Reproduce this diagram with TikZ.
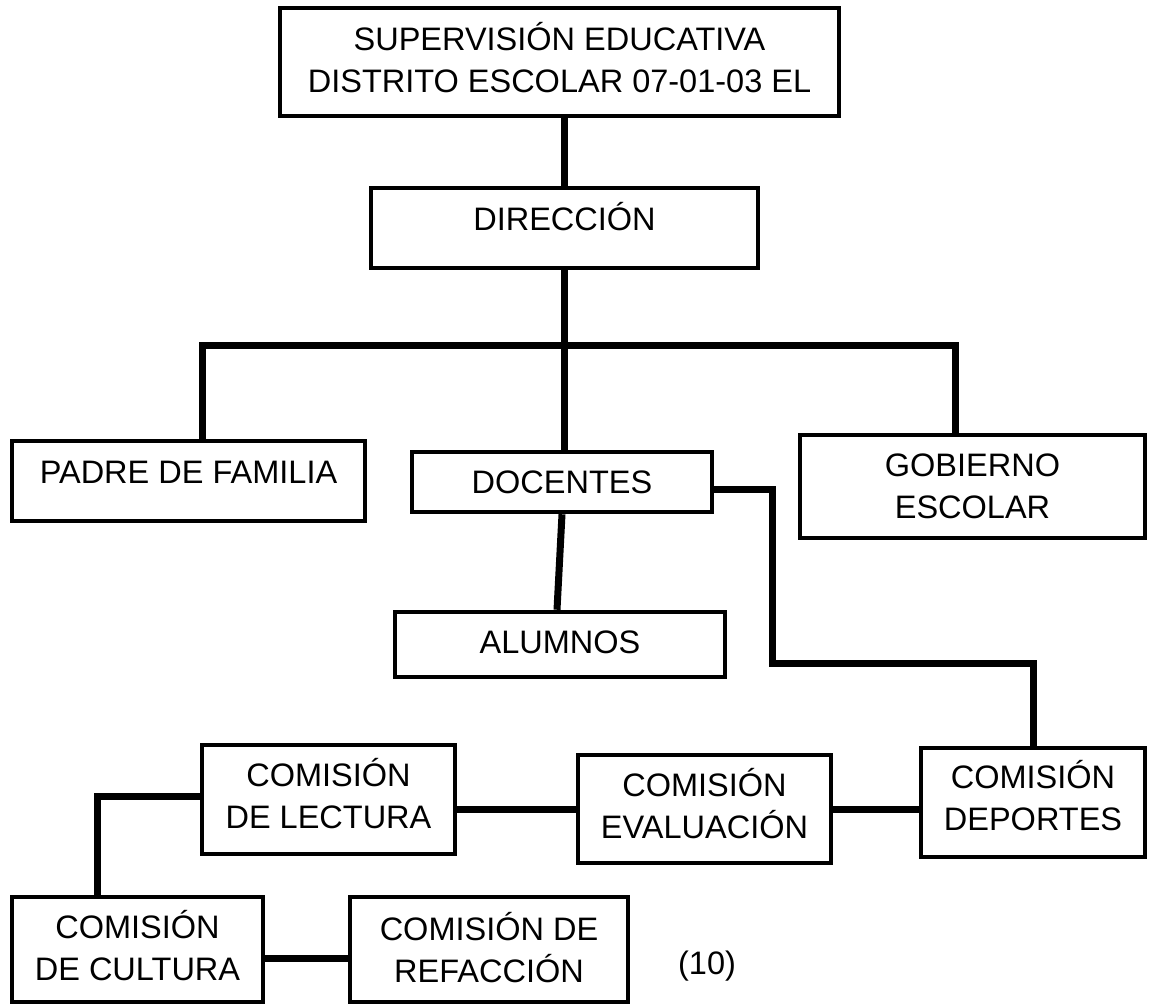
\documentclass[tikz,border=0pt]{standalone}
\usepackage{fontspec}
\setmainfont{Liberation Sans}
\begin{document}
\begin{tikzpicture}[x=1pt,y=-1pt,
  box/.style={draw=black,line width=4.5pt,fill=white,inner sep=0pt},
  txt/.style={inner sep=0pt,align=center,font=\fontsize{32.5}{42}\selectfont,anchor=south},
  conn/.style={draw=black,line width=7pt}]
\fill[white] (0,0) rectangle (1149,1005);
\useasboundingbox (0,0) rectangle (1149,1005);
\coordinate (bl) at (202,345);
\coordinate (br) at (955,345);
\coordinate (k1) at (772,663);
\coordinate (k2) at (97,796);
% boxes
\node[box,minimum width=559,minimum height=108] (sup) at (559.5,62) {};
\node[box,minimum width=387,minimum height=80] (dir) at (564.5,228) {};
\node[box,minimum width=353,minimum height=80] (padre) at (188.5,481) {};
\node[box,minimum width=300,minimum height=60] (doc) at (562,482) {};
\node[box,minimum width=345,minimum height=103] (gob) at (972.5,486.5) {};
\node[box,minimum width=330,minimum height=65] (alu) at (560,644.5) {};
\node[box,minimum width=253,minimum height=109] (lect) at (328.5,799.5) {};
\node[box,minimum width=253,minimum height=108] (eval) at (704.5,809) {};
\node[box,minimum width=224,minimum height=109] (dep) at (1033,802.5) {};
\node[box,minimum width=251,minimum height=105] (cult) at (137.5,949.5) {};
\node[box,minimum width=278,minimum height=105] (ref) at (489,949.5) {};
% connectors
\draw[conn] (dir.north) -- (dir.north |- sup.south);
\draw[conn] (dir.south) -- (dir.south |- doc.north);
\draw[conn] (bl |- padre.north) -- (bl) -- (br) -- (br |- gob.north);
\draw[conn] ([yshift=-7pt]doc.east) -| (k1) -| (dep.north);
\draw[conn] (doc.south) -- ([xshift=-3pt]alu.north);
\draw[conn] (eval.west) -- (eval.west -| lect.east);
\draw[conn] (eval.east) -- (eval.east -| dep.west);
\draw[conn] ([yshift=3.5pt]lect.west) -- (k2) -- (k2 |- cult.north);
\draw[conn] ([yshift=-8.5pt]cult.east) -- ([yshift=-8.5pt]ref.west);
% texts
\node[txt] (supT) at (559.5,93) {SUPERVISIÓN EDUCATIVA\\DISTRITO ESCOLAR 07-01-03 EL};
\node[txt] (dirT) at (564.5,231) {DIRECCIÓN};
\node[txt] (padreT) at (188.5,484) {PADRE DE FAMILIA};
\node[txt] (docT) at (562,494) {DOCENTES};
\node[txt] (gobT) at (972.5,519) {GOBIERNO\\ESCOLAR};
\node[txt] (aluT) at (560,654) {ALUMNOS};
\node[txt] (lectT) at (328.5,829) {COMISIÓN\\DE LECTURA};
\node[txt] (evalT) at (704.5,839) {COMISIÓN\\EVALUACIÓN};
\node[txt] (depT) at (1033,831) {COMISIÓN\\DEPORTES};
\node[txt] (cultT) at (137.5,981) {COMISIÓN\\DE CULTURA};
\node[txt] (refT) at (489,983) {COMISIÓN DE\\REFACCIÓN};
\node[txt,anchor=base] (num) at (707,974) {(10)};
\end{tikzpicture}
\end{document}
